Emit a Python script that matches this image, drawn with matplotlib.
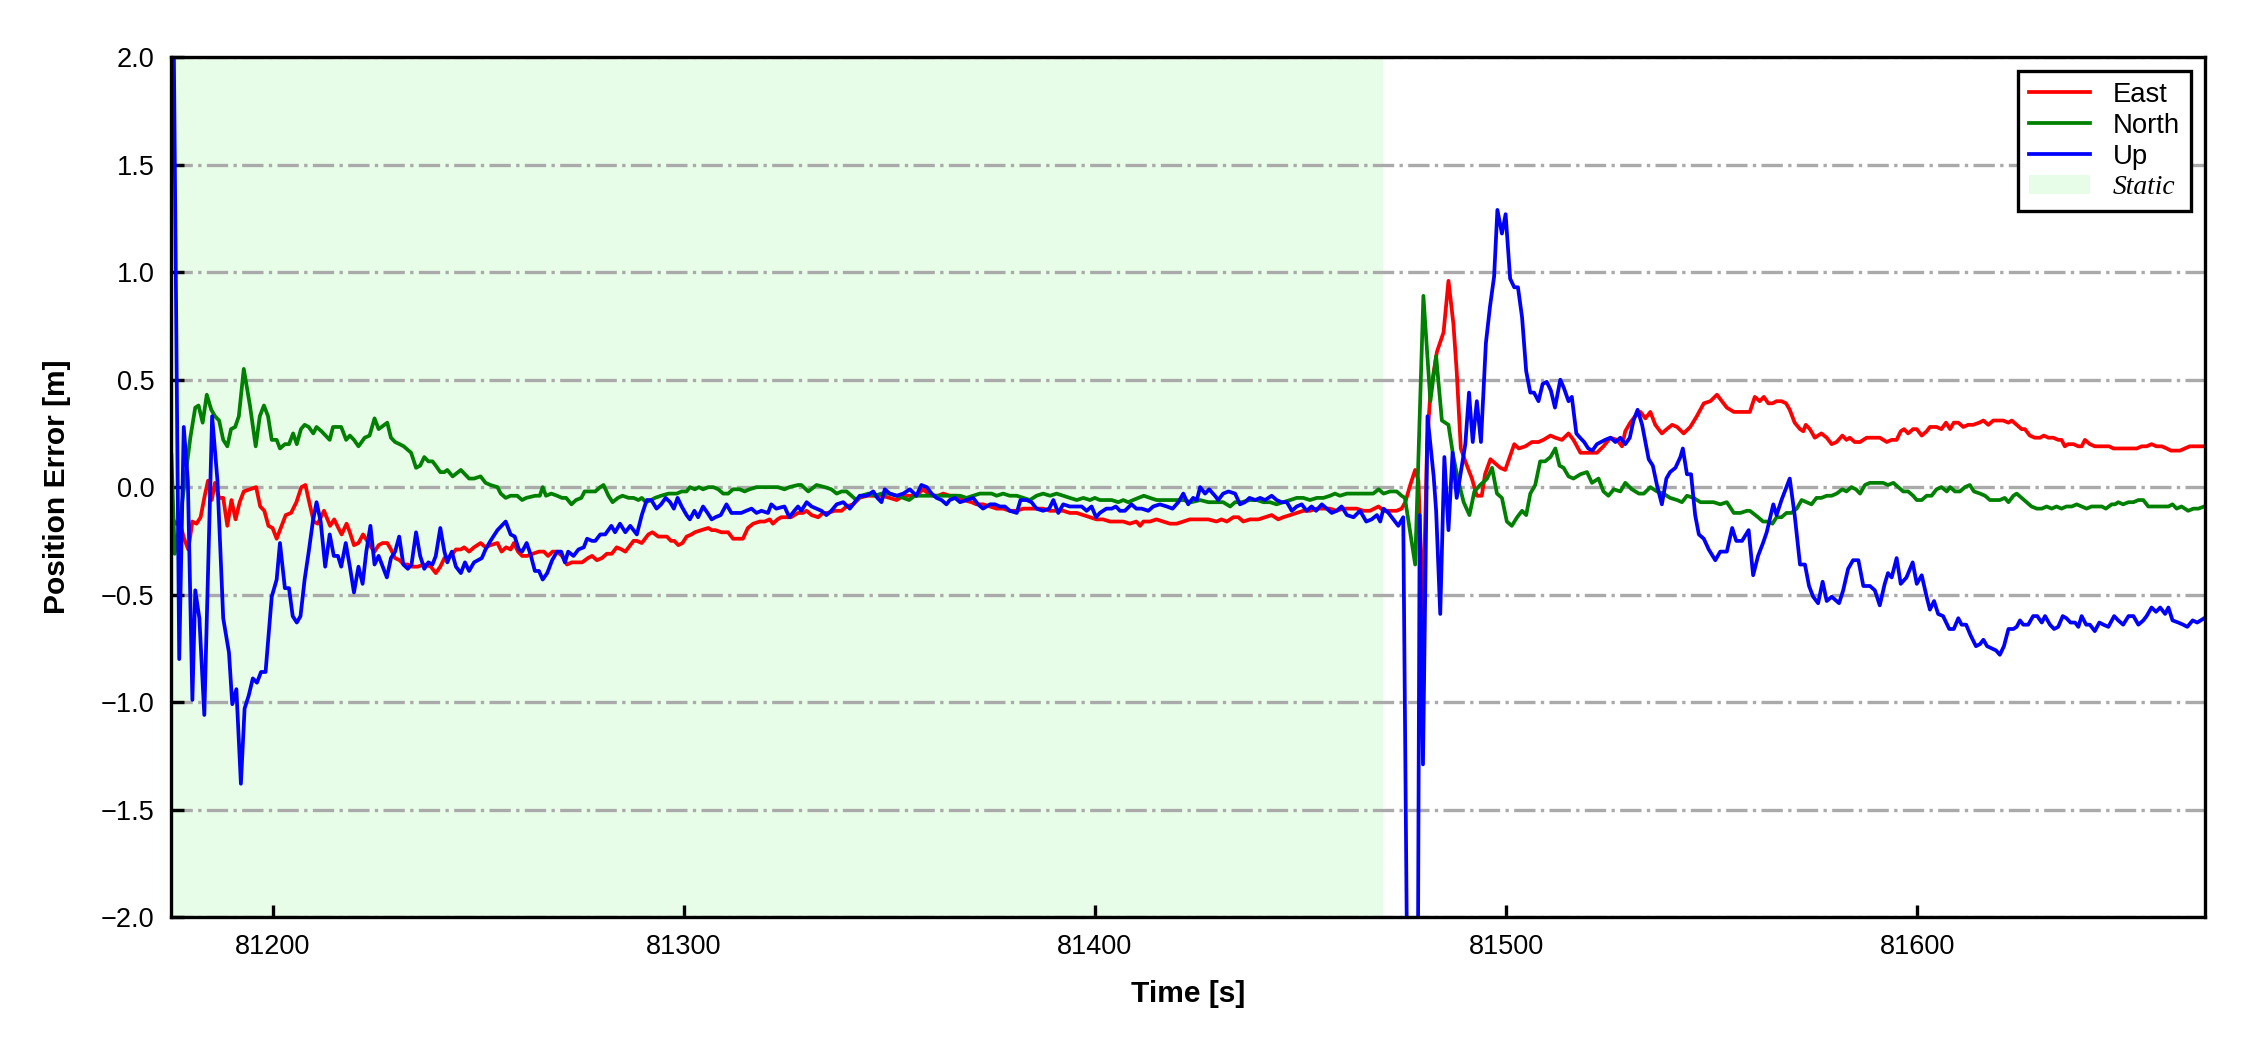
import matplotlib
matplotlib.use('Agg')
import matplotlib.pyplot as plt
from matplotlib.lines import Line2D
from matplotlib.patches import Patch

plt.rcParams['font.family'] = ['Liberation Sans', 'DejaVu Sans']

# ---- data ------------------------------------------------------------------
static_start, static_end = 81175.3, 81470.0

t_east = [
    81175.4, 81176.5, 81177.5, 81178.5, 81179.5, 81180.5, 81181.5, 81182.5, 81183.5, 81184.3,
    81185.2, 81186.0, 81187.0, 81188.0, 81189.0, 81190.0, 81191.0, 81192.0, 81193.0, 81194.5,
    81196.0, 81197.0, 81198.0, 81199.0, 81200.0, 81201.0, 81202.0, 81203.2, 81204.5, 81205.8,
    81207.0, 81208.0, 81208.8, 81210.0, 81211.0, 81212.5, 81214.0, 81215.0, 81216.0, 81216.8,
    81218.0, 81218.8, 81219.8, 81220.9, 81222.0, 81223.0, 81224.0, 81224.8, 81225.8, 81226.8,
    81227.9, 81228.8, 81229.8, 81230.9, 81231.9, 81232.9, 81233.9, 81235.3, 81236.9, 81238.5,
    81239.7, 81240.8, 81241.8,
    81242.5, 81243.8, 81244.6, 81245.8, 81246.6, 81247.8, 81249.0, 81250.6, 81251.8, 81253.0,
    81254.7, 81255.7, 81256.8, 81257.9, 81258.7, 81259.7, 81260.7, 81261.9, 81263.3, 81264.8,
    81266.0, 81267.0, 81268.1, 81269.2, 81270.4, 81271.6, 81272.8, 81274.0, 81275.3, 81276.7,
    81277.7, 81278.9, 81280.1, 81281.3, 81282.5, 81283.7, 81284.9, 81285.8, 81287.0, 81287.8,
    81288.6, 81289.8, 81291.4, 81292.4, 81293.8, 81295.0, 81295.9, 81296.9, 81297.7, 81298.7,
    81299.7, 81300.7, 81301.9, 81302.7, 81304.3, 81306.0, 81306.8, 81307.7, 81309.2, 81310.8,
    81312.0, 81313.2, 81314.4, 81315.6, 81316.9, 81318.5, 81319.7, 81320.9, 81321.7, 81322.8,
    81323.7, 81324.9, 81326.1, 81327.8,
    81329.0, 81329.9, 81331.1, 81332.7, 81333.9, 81335.1, 81336.7, 81338.4, 81339.6, 81341.2,
    81342.8, 81344.5, 81346.1, 81348.1, 81350.1, 81351.8, 81353.4, 81355.0, 81356.6, 81358.2,
    81359.5, 81360.7, 81361.9, 81363.1, 81364.7, 81366.4, 81368.0, 81370.0, 81371.2, 81372.8,
    81374.5, 81376.1, 81377.7, 81379.3, 81381.0, 81382.6, 81384.2, 81385.8, 81387.4, 81389.1,
    81390.7, 81392.3, 81393.9, 81395.6, 81397.2, 81398.8, 81400.4, 81402.0, 81403.7, 81405.3,
    81406.9, 81408.5, 81410.1, 81411.0, 81411.8, 81413.4, 81415.0,
    81416.6, 81418.3, 81419.9, 81421.5, 81423.1, 81425.6, 81427.6, 81429.6, 81430.8, 81432.1,
    81433.7, 81434.9, 81436.1, 81437.7, 81439.8, 81441.4, 81443.0, 81444.6, 81445.8, 81447.5,
    81449.1, 81450.7, 81452.3, 81454.0, 81455.6, 81457.2, 81458.8, 81460.4, 81462.1, 81463.7,
    81465.3, 81466.9, 81469.0, 81470.2, 81471.8, 81473.4, 81474.6,
    81475.5, 81476.7, 81477.9, 81478.7, 81479.8, 81480.8, 81481.6, 81483.2, 81484.8, 81486.0,
    81487.2, 81488.0, 81489.0, 81490.1, 81491.7, 81492.9, 81494.1, 81494.9, 81496.2, 81497.4,
    81498.6, 81499.8, 81500.9, 81502.0, 81503.1, 81504.7, 81506.3, 81507.9, 81509.1, 81510.8,
    81512.0, 81513.6, 81515.2, 81516.4, 81518.1, 81519.7, 81522.1, 81523.7, 81525.4, 81527.0,
    81528.2, 81529.0, 81530.2, 81531.4, 81532.7, 81533.9, 81535.1, 81536.3, 81537.9, 81539.1,
    81540.4, 81541.6, 81543.2, 81544.8, 81546.4, 81548.1, 81549.7, 81551.3, 81552.1, 81553.7,
    81555.4, 81557.0, 81558.6,
    81559.3, 81560.5, 81561.7, 81562.7, 81563.8, 81564.8, 81565.8, 81567.0, 81568.1, 81569.0,
    81570.2, 81571.5, 81572.3, 81572.9, 81573.9, 81575.1, 81576.7, 81578.0, 81579.2, 81580.4,
    81581.8, 81582.8, 81583.6, 81584.8, 81586.1, 81587.7, 81589.3, 81590.9, 81592.6, 81593.8,
    81595.0, 81596.0, 81596.8, 81597.8, 81599.0, 81599.9, 81601.1, 81602.3, 81603.1, 81604.7,
    81605.9, 81607.0, 81608.0, 81608.9, 81610.0, 81611.2, 81612.4, 81613.6, 81615.1, 81616.1,
    81617.3, 81618.5, 81619.7, 81620.9, 81622.2, 81623.0, 81624.2, 81625.4, 81626.2, 81627.4,
    81628.6, 81629.9, 81630.8, 81631.9, 81633.1, 81634.3, 81635.1, 81635.9, 81636.7, 81638.0,
    81639.2, 81640.0, 81640.8, 81642.0, 81643.2, 81644.5, 81645.7, 81646.7, 81647.7, 81648.9,
    81650.1, 81651.4, 81652.4, 81653.4, 81654.6, 81655.8, 81657.0, 81658.2, 81659.5, 81660.7,
    81661.7, 81662.7, 81663.9, 81665.1, 81666.3, 81667.6, 81668.8, 81669.8,
]
east = [
    -0.14, -0.17, -0.17, -0.24, -0.29, -0.16, -0.17, -0.14, -0.04, 0.03,
    -0.06, 0.02, -0.05, -0.05, -0.18, -0.06, -0.15, -0.07, -0.02, -0.01,
    0.00, -0.09, -0.11, -0.18, -0.19, -0.24, -0.19, -0.13, -0.12, -0.07,
    0.00, 0.01, -0.06, -0.16, -0.17, -0.11, -0.18, -0.15, -0.19, -0.22,
    -0.17, -0.21, -0.27, -0.26, -0.22, -0.25, -0.28, -0.30, -0.27, -0.26,
    -0.26, -0.29, -0.33, -0.34, -0.36, -0.36, -0.37, -0.37, -0.36, -0.37,
    -0.40, -0.37, -0.33,
    -0.33, -0.31, -0.29, -0.29, -0.28, -0.30, -0.28, -0.26, -0.28, -0.27,
    -0.26, -0.30, -0.28, -0.29, -0.26, -0.30, -0.32, -0.32, -0.31, -0.30,
    -0.30, -0.32, -0.30, -0.30, -0.32, -0.36, -0.35, -0.35, -0.35, -0.33,
    -0.32, -0.34, -0.33, -0.31, -0.31, -0.28, -0.29, -0.30, -0.27, -0.25,
    -0.25, -0.26, -0.22, -0.21, -0.23, -0.23, -0.23, -0.25, -0.25, -0.27,
    -0.26, -0.23, -0.22, -0.21, -0.20, -0.19, -0.20, -0.20, -0.21, -0.21,
    -0.24, -0.24, -0.24, -0.19, -0.17, -0.16, -0.16, -0.15, -0.17, -0.15,
    -0.14, -0.14, -0.14, -0.12,
    -0.12, -0.11, -0.13, -0.14, -0.12, -0.12, -0.11, -0.11, -0.09, -0.08,
    -0.05, -0.04, -0.04, -0.04, -0.05, -0.06, -0.04, -0.04, -0.04, -0.01,
    -0.03, -0.04, -0.04, -0.03, -0.04, -0.04, -0.06, -0.07, -0.08, -0.08,
    -0.09, -0.10, -0.10, -0.11, -0.11, -0.10, -0.10, -0.10, -0.10, -0.11,
    -0.11, -0.11, -0.12, -0.12, -0.13, -0.14, -0.15, -0.15, -0.16, -0.16,
    -0.16, -0.17, -0.16, -0.18, -0.16, -0.16, -0.15,
    -0.16, -0.17, -0.17, -0.16, -0.15, -0.15, -0.15, -0.16, -0.15, -0.16,
    -0.14, -0.14, -0.16, -0.15, -0.15, -0.14, -0.13, -0.15, -0.14, -0.13,
    -0.12, -0.11, -0.11, -0.10, -0.10, -0.10, -0.11, -0.10, -0.10, -0.10,
    -0.11, -0.11, -0.09, -0.11, -0.11, -0.11, -0.10,
    -0.07, 0.01, 0.08, 0.03, -0.60, 0.20, 0.44, 0.63, 0.72, 0.96,
    0.76, 0.54, 0.18, 0.12, 0.04, -0.04, -0.04, 0.06, 0.13, 0.11,
    0.09, 0.08, 0.14, 0.20, 0.18, 0.19, 0.21, 0.21, 0.22, 0.24,
    0.23, 0.22, 0.25, 0.22, 0.16, 0.16, 0.16, 0.19, 0.23, 0.22,
    0.19, 0.26, 0.30, 0.33, 0.35, 0.32, 0.35, 0.29, 0.25, 0.27,
    0.29, 0.28, 0.25, 0.28, 0.33, 0.39, 0.40, 0.43, 0.41, 0.37,
    0.35, 0.35, 0.35,
    0.35, 0.42, 0.40, 0.42, 0.39, 0.39, 0.40, 0.40, 0.39, 0.36,
    0.30, 0.27, 0.26, 0.29, 0.27, 0.23, 0.25, 0.23, 0.20, 0.21,
    0.24, 0.22, 0.23, 0.21, 0.21, 0.23, 0.23, 0.23, 0.21, 0.22,
    0.22, 0.26, 0.27, 0.25, 0.27, 0.27, 0.24, 0.26, 0.28, 0.28,
    0.27, 0.30, 0.27, 0.30, 0.30, 0.28, 0.29, 0.29, 0.30, 0.31,
    0.29, 0.31, 0.31, 0.31, 0.30, 0.31, 0.29, 0.27, 0.27, 0.24,
    0.23, 0.23, 0.24, 0.23, 0.23, 0.22, 0.22, 0.19, 0.20, 0.20,
    0.19, 0.19, 0.22, 0.20, 0.19, 0.19, 0.19, 0.19, 0.18, 0.18,
    0.18, 0.18, 0.18, 0.18, 0.19, 0.19, 0.20, 0.19, 0.19, 0.18,
    0.17, 0.17, 0.17, 0.18, 0.19, 0.19, 0.19, 0.19,
]

t_north = [
    81175.4, 81176.2, 81177.1, 81180.0, 81181.2, 81182.0, 81183.0, 81184.0, 81185.1, 81186.0,
    81187.0, 81188.0, 81189.0, 81189.9, 81190.9, 81191.8, 81193.0, 81194.5, 81195.9, 81196.9,
    81197.9, 81198.9, 81199.8, 81201.0, 81201.8, 81203.0, 81204.0, 81205.0, 81205.9, 81206.9,
    81207.8, 81208.8, 81209.9, 81210.7, 81211.9, 81213.9, 81214.7, 81216.7, 81217.9, 81218.8,
    81219.8, 81220.9, 81222.4, 81223.6, 81224.8, 81225.8, 81227.9, 81228.8, 81229.8, 81230.9,
    81231.9, 81233.7, 81234.9, 81235.9, 81236.9, 81237.9, 81238.9, 81239.7, 81240.8, 81241.8,
    81242.5, 81243.8, 81245.8, 81247.8, 81249.0, 81250.6, 81251.8, 81253.0, 81254.7, 81255.5,
    81256.7, 81257.9, 81259.5, 81260.7, 81261.7, 81263.9, 81265.0, 81265.7, 81266.5, 81267.8,
    81269.2, 81270.4, 81271.4, 81272.7, 81273.8, 81275.1, 81275.9, 81277.3, 81278.5, 81279.7,
    81280.5, 81281.7, 81282.7, 81284.0, 81285.1, 81286.6, 81287.8, 81289.0, 81289.8, 81290.8,
    81292.1, 81293.0, 81294.5, 81296.3, 81298.3, 81299.5, 81300.7, 81301.5, 81302.7, 81303.7,
    81304.7, 81306.0, 81307.2, 81308.4, 81309.6, 81310.8, 81312.0, 81313.6, 81314.8, 81316.0,
    81317.7, 81318.9, 81321.3, 81322.9, 81324.5, 81325.7, 81327.8,
    81328.6, 81330.3, 81332.3, 81334.3, 81335.9, 81337.2, 81338.4, 81339.6, 81340.8, 81342.0,
    81343.2, 81344.9, 81346.5, 81348.1, 81350.1, 81351.8, 81353.4, 81354.8, 81356.2, 81357.8,
    81359.9, 81361.9, 81363.9, 81365.5, 81367.2, 81368.8, 81370.4, 81372.0, 81373.7, 81374.9,
    81376.1, 81377.7, 81379.3, 81381.0, 81382.6, 81384.2, 81385.8, 81387.4, 81389.1, 81390.7,
    81392.3, 81393.9, 81395.6, 81397.2, 81398.8, 81400.0, 81401.2, 81402.8, 81404.1, 81405.7,
    81406.9, 81408.1, 81409.3, 81410.6, 81411.9, 81413.4, 81415.0,
    81417.5, 81419.5, 81421.5, 81423.5, 81425.6, 81427.6, 81429.6, 81431.2, 81432.9, 81434.1,
    81435.7, 81437.7, 81439.4, 81441.0, 81442.6, 81444.2, 81445.8, 81447.5, 81449.1, 81450.7,
    81452.3, 81454.0, 81455.6, 81457.2, 81458.4, 81459.6, 81461.3, 81462.9, 81464.5, 81466.1,
    81467.7, 81469.0, 81470.2, 81471.8, 81473.4, 81474.6, 81475.4,
    81477.9, 81479.9, 81481.6, 81483.0, 81484.4, 81486.0, 81487.2, 81488.5, 81489.7, 81491.1,
    81492.3, 81493.7, 81495.4, 81496.6, 81497.8, 81499.0, 81500.2, 81501.4, 81502.7, 81503.9,
    81504.9, 81505.9, 81507.1, 81508.3, 81509.5, 81510.8, 81512.0, 81513.0, 81514.0, 81515.2,
    81516.4, 81518.1, 81519.7, 81520.9, 81522.5, 81523.7, 81524.9, 81526.2, 81527.8, 81529.0,
    81530.6, 81532.3, 81533.5, 81535.1, 81536.7, 81538.3, 81539.9, 81541.6, 81542.8, 81544.0,
    81545.6, 81547.3, 81548.9, 81550.5, 81552.1, 81553.7, 81555.4, 81557.0, 81558.6,
    81559.3, 81561.3, 81562.5, 81563.8, 81564.8, 81565.8, 81567.0, 81568.2, 81569.4, 81570.7,
    81571.9, 81573.1, 81574.3, 81575.5, 81576.7, 81578.0, 81579.2, 81580.4, 81581.8, 81582.8,
    81584.0, 81585.1, 81586.1, 81587.3, 81588.5, 81590.1, 81591.7, 81592.9, 81594.2, 81595.4,
    81596.6, 81597.8, 81599.0, 81599.9, 81601.1, 81602.3, 81603.5, 81604.7, 81605.9, 81607.2,
    81608.0, 81609.2, 81610.4, 81611.6, 81612.8, 81613.8, 81615.3, 81616.5, 81617.7, 81618.9,
    81620.1, 81621.3, 81622.2, 81623.4, 81624.2, 81625.4, 81626.6, 81627.8, 81629.1, 81630.3,
    81631.5, 81632.7, 81633.9, 81635.1, 81636.3, 81637.6, 81638.8, 81640.0, 81641.2, 81642.4,
    81643.6, 81644.9, 81645.9, 81647.3, 81648.1, 81648.9, 81650.1, 81651.4, 81652.6, 81653.8,
    81655.0, 81656.2, 81657.4, 81658.7, 81659.9, 81661.1, 81662.1, 81663.1, 81664.3, 81665.9,
    81667.2, 81668.4, 81669.8,
]
north = [
    0.15, -0.31, -0.21, 0.23, 0.37, 0.38, 0.30, 0.43, 0.36, 0.33,
    0.31, 0.22, 0.19, 0.27, 0.28, 0.33, 0.55, 0.38, 0.19, 0.33,
    0.38, 0.33, 0.22, 0.22, 0.18, 0.20, 0.20, 0.25, 0.20, 0.27,
    0.29, 0.28, 0.25, 0.28, 0.26, 0.22, 0.28, 0.28, 0.22, 0.24,
    0.22, 0.19, 0.23, 0.24, 0.32, 0.27, 0.30, 0.23, 0.21, 0.20,
    0.19, 0.16, 0.09, 0.10, 0.14, 0.12, 0.12, 0.10, 0.07, 0.07,
    0.08, 0.05, 0.08, 0.04, 0.04, 0.05, 0.02, 0.01, 0.00, -0.03,
    -0.05, -0.04, -0.04, -0.06, -0.05, -0.04, -0.04, 0.00, -0.04, -0.03,
    -0.04, -0.05, -0.05, -0.08, -0.06, -0.05, -0.02, -0.02, -0.02, 0.00,
    0.01, -0.04, -0.07, -0.05, -0.04, -0.05, -0.05, -0.06, -0.05, -0.07,
    -0.06, -0.05, -0.04, -0.03, -0.03, -0.02, -0.02, 0.00, -0.01, 0.00,
    -0.01, 0.00, 0.00, -0.01, -0.03, -0.03, -0.01, -0.01, -0.02, -0.01,
    0.00, 0.00, 0.00, 0.00, -0.01, 0.00, 0.01,
    0.01, -0.02, 0.01, 0.00, -0.01, -0.03, -0.02, -0.02, -0.04, -0.06,
    -0.04, -0.03, -0.04, -0.03, -0.03, -0.04, -0.05, -0.06, -0.04, -0.04,
    -0.04, -0.04, -0.04, -0.04, -0.04, -0.05, -0.04, -0.03, -0.03, -0.03,
    -0.04, -0.03, -0.04, -0.04, -0.05, -0.06, -0.04, -0.03, -0.04, -0.03,
    -0.04, -0.05, -0.06, -0.05, -0.06, -0.05, -0.06, -0.06, -0.06, -0.07,
    -0.06, -0.07, -0.06, -0.05, -0.04, -0.05, -0.06,
    -0.06, -0.06, -0.06, -0.07, -0.06, -0.07, -0.07, -0.07, -0.09, -0.07,
    -0.07, -0.06, -0.06, -0.07, -0.07, -0.08, -0.07, -0.06, -0.05, -0.05,
    -0.06, -0.05, -0.05, -0.04, -0.03, -0.04, -0.03, -0.03, -0.03, -0.03,
    -0.03, -0.01, -0.03, -0.02, -0.02, -0.04, -0.05,
    -0.36, 0.89, 0.40, 0.61, 0.31, 0.29, 0.14, 0.02, -0.07, -0.13,
    -0.02, 0.01, 0.04, 0.09, -0.03, -0.05, -0.16, -0.18, -0.14, -0.11,
    -0.13, -0.03, 0.01, 0.12, 0.12, 0.14, 0.18, 0.10, 0.09, 0.05,
    0.04, 0.06, 0.07, 0.02, 0.04, -0.02, -0.04, -0.01, -0.02, 0.02,
    -0.01, -0.03, -0.03, 0.00, -0.02, -0.03, -0.05, -0.06, -0.07, -0.04,
    -0.05, -0.07, -0.07, -0.07, -0.08, -0.07, -0.12, -0.12, -0.11,
    -0.11, -0.14, -0.16, -0.16, -0.17, -0.14, -0.14, -0.12, -0.12, -0.10,
    -0.06, -0.07, -0.08, -0.05, -0.05, -0.04, -0.04, -0.03, -0.01, -0.02,
    0.00, -0.01, -0.03, 0.01, 0.02, 0.02, 0.02, 0.01, 0.02, 0.00,
    -0.02, -0.02, -0.04, -0.06, -0.06, -0.04, -0.04, -0.01, 0.00, -0.02,
    0.00, -0.02, -0.02, 0.00, 0.01, -0.02, -0.03, -0.04, -0.06, -0.06,
    -0.06, -0.05, -0.07, -0.04, -0.03, -0.05, -0.07, -0.09, -0.10, -0.10,
    -0.09, -0.10, -0.09, -0.10, -0.09, -0.09, -0.08, -0.09, -0.10, -0.09,
    -0.09, -0.09, -0.10, -0.08, -0.08, -0.07, -0.08, -0.07, -0.07, -0.06,
    -0.06, -0.09, -0.09, -0.09, -0.09, -0.09, -0.08, -0.10, -0.09, -0.11,
    -0.10, -0.10, -0.09,
]

t_up = [
    81175.4, 81177.3, 81178.4, 81179.4, 81180.5, 81181.2, 81182.2, 81183.4, 81185.3, 81186.6,
    81188.0, 81189.4, 81190.2, 81191.2, 81192.3, 81193.2, 81194.2, 81195.2, 81196.2, 81197.2,
    81198.3, 81199.8, 81201.0, 81201.8, 81203.0, 81204.0, 81204.9, 81205.9, 81206.8, 81207.8,
    81208.8, 81209.8, 81210.7, 81211.7, 81212.8, 81213.9, 81214.9, 81215.9, 81216.7, 81217.8,
    81218.8, 81219.8, 81220.9, 81221.9, 81222.8, 81223.8, 81224.8, 81225.8, 81226.8, 81227.8,
    81228.8, 81229.8, 81230.8, 81231.8, 81232.9, 81233.8, 81234.9, 81235.9, 81236.9, 81237.9,
    81238.9, 81239.7, 81240.8, 81241.8,
    81242.5, 81243.6, 81244.6, 81245.8, 81246.8, 81247.8, 81249.0, 81250.9, 81251.8, 81253.0,
    81254.7, 81255.7, 81256.7, 81257.9, 81258.9, 81259.9, 81260.7, 81261.8, 81262.7, 81263.8,
    81264.8, 81265.7, 81266.8, 81268.0, 81269.2, 81270.2, 81271.1, 81271.9, 81273.2, 81274.4,
    81275.7, 81276.5, 81277.7, 81278.5, 81279.7, 81280.9, 81282.4, 81283.3, 81284.5, 81285.8,
    81287.0, 81288.6, 81289.8, 81291.0, 81292.1, 81293.4, 81294.5, 81295.6, 81296.7, 81297.6,
    81298.5, 81299.5, 81300.7, 81301.5, 81302.6, 81303.5, 81304.7, 81305.8, 81306.8, 81307.7,
    81309.0, 81310.4, 81311.6, 81312.8, 81314.0, 81315.2, 81316.5, 81317.7, 81318.9, 81320.5,
    81321.3, 81322.5, 81324.5, 81325.7, 81326.9, 81327.8,
    81328.6, 81329.9, 81331.1, 81332.3, 81333.5, 81334.7, 81335.9, 81337.2, 81338.8, 81340.4,
    81342.0, 81342.8, 81344.5, 81346.1, 81347.1, 81348.1, 81348.9, 81350.1, 81351.8, 81353.4,
    81355.0, 81356.6, 81357.8, 81359.1, 81360.3, 81361.5, 81362.7, 81363.9, 81364.7, 81366.0,
    81367.2, 81368.8, 81370.4, 81371.6, 81372.8, 81374.5, 81375.7, 81376.9, 81378.1, 81379.3,
    81381.0, 81381.9, 81383.4, 81384.6, 81385.8, 81387.4, 81388.9, 81389.9, 81391.1, 81392.3,
    81393.9, 81395.6, 81396.8, 81398.0, 81399.2, 81400.3, 81401.2, 81402.8, 81404.1, 81405.1,
    81406.1, 81407.3, 81408.9, 81410.1, 81411.4, 81413.0, 81414.2, 81415.8,
    81417.5, 81418.9, 81420.3, 81421.5, 81422.7, 81423.9, 81424.8, 81425.6, 81426.8, 81427.8,
    81429.2, 81430.0, 81431.2, 81432.5, 81434.1, 81435.3, 81436.5, 81437.6, 81439.0, 81440.2,
    81441.4, 81443.0, 81444.2, 81445.4, 81446.7, 81447.9, 81449.1, 81450.3, 81451.5, 81452.7,
    81453.8, 81455.2, 81456.4, 81457.6, 81458.8, 81460.0, 81461.3, 81462.9, 81464.5, 81466.0,
    81467.3, 81468.6, 81469.4, 81470.2, 81471.4, 81472.6, 81473.8, 81475.0,
    81476.2, 81478.3, 81479.0, 81479.8, 81480.9, 81482.4, 81483.0, 81484.0, 81485.0, 81486.0,
    81487.0, 81488.0, 81489.0, 81490.1, 81491.0, 81491.9, 81492.9, 81493.9, 81495.1, 81496.1,
    81497.1, 81497.9, 81499.0, 81499.9, 81501.0, 81502.0, 81502.9, 81503.9, 81504.9, 81505.9,
    81506.8, 81507.9, 81508.9, 81509.9, 81510.9, 81511.9, 81513.2, 81514.1, 81515.2, 81516.0,
    81517.1, 81518.0, 81519.0, 81520.0, 81521.0, 81522.1, 81524.1, 81525.4, 81526.6, 81527.8,
    81529.0, 81530.1, 81531.0, 81532.0, 81533.1, 81534.7, 81535.7, 81536.7, 81537.9, 81539.0,
    81539.9, 81541.2, 81542.4, 81543.0, 81544.0, 81545.0, 81546.0, 81546.9, 81548.1, 81549.3,
    81550.9, 81552.1, 81553.7, 81555.0, 81556.0, 81557.4, 81559.0, 81560.1,
    81561.3, 81562.5, 81563.4, 81565.0, 81565.8, 81567.0, 81569.0, 81570.2, 81571.5, 81572.7,
    81573.7, 81574.7, 81575.9, 81577.0, 81578.0, 81579.2, 81581.0, 81582.0, 81583.2, 81584.4,
    81585.7, 81586.9, 81588.5, 81589.7, 81590.9, 81592.1, 81592.9, 81593.8, 81595.0, 81596.0,
    81597.4, 81598.9, 81599.9, 81601.1, 81602.3, 81603.1, 81604.1, 81605.1, 81606.3, 81607.8,
    81608.9, 81610.0, 81610.8, 81611.9, 81613.0, 81614.3, 81615.3, 81616.1, 81617.0, 81618.1,
    81619.2, 81620.1, 81621.1, 81622.2, 81623.4, 81624.2, 81625.0, 81625.8, 81627.0, 81628.2,
    81629.2, 81630.3, 81631.1, 81632.3, 81633.3, 81634.3, 81635.4, 81636.3, 81637.3, 81638.4,
    81639.2, 81640.0, 81641.1, 81642.0, 81643.2, 81644.3, 81645.3, 81646.5, 81647.9, 81648.9,
    81650.1, 81651.4, 81652.6, 81653.8, 81655.0, 81655.8, 81657.0, 81658.1, 81659.1, 81660.3,
    81661.1, 81662.1, 81663.5, 81664.7, 81665.7, 81667.0, 81668.1, 81669.8,
]
up = [
    3.30, -0.80, 0.28, 0.03, -0.99, -0.48, -0.61, -1.06, 0.33, 0.03,
    -0.61, -0.77, -1.01, -0.94, -1.38, -1.03, -0.97, -0.89, -0.91, -0.86,
    -0.86, -0.51, -0.43, -0.26, -0.47, -0.47, -0.60, -0.63, -0.60, -0.43,
    -0.30, -0.16, -0.07, -0.16, -0.37, -0.22, -0.32, -0.32, -0.37, -0.26,
    -0.37, -0.49, -0.37, -0.45, -0.30, -0.18, -0.36, -0.32, -0.37, -0.42,
    -0.33, -0.30, -0.23, -0.36, -0.38, -0.36, -0.21, -0.32, -0.38, -0.35,
    -0.36, -0.32, -0.19, -0.30,
    -0.35, -0.30, -0.37, -0.40, -0.35, -0.39, -0.35, -0.33, -0.29, -0.25,
    -0.20, -0.18, -0.16, -0.22, -0.23, -0.29, -0.30, -0.26, -0.31, -0.39,
    -0.39, -0.43, -0.40, -0.34, -0.30, -0.30, -0.35, -0.30, -0.32, -0.29,
    -0.28, -0.24, -0.25, -0.25, -0.22, -0.22, -0.18, -0.21, -0.17, -0.21,
    -0.18, -0.22, -0.13, -0.06, -0.06, -0.10, -0.08, -0.05, -0.07, -0.10,
    -0.05, -0.09, -0.13, -0.15, -0.11, -0.14, -0.09, -0.12, -0.15, -0.14,
    -0.13, -0.08, -0.12, -0.12, -0.12, -0.11, -0.10, -0.12, -0.11, -0.12,
    -0.08, -0.10, -0.09, -0.14, -0.11, -0.09,
    -0.11, -0.07, -0.09, -0.10, -0.11, -0.13, -0.11, -0.08, -0.07, -0.10,
    -0.06, -0.04, -0.04, -0.02, -0.05, -0.07, -0.01, -0.03, -0.04, -0.03,
    -0.01, -0.04, 0.01, 0.00, -0.03, -0.05, -0.06, -0.08, -0.06, -0.05,
    -0.07, -0.06, -0.05, -0.08, -0.10, -0.08, -0.08, -0.09, -0.09, -0.11,
    -0.12, -0.06, -0.06, -0.07, -0.10, -0.11, -0.10, -0.06, -0.12, -0.08,
    -0.09, -0.09, -0.09, -0.11, -0.09, -0.14, -0.12, -0.10, -0.10, -0.09,
    -0.11, -0.11, -0.08, -0.10, -0.10, -0.11, -0.09, -0.08,
    -0.09, -0.10, -0.07, -0.03, -0.08, -0.05, -0.06, 0.00, -0.03, -0.01,
    -0.04, -0.06, -0.03, -0.02, -0.03, -0.08, -0.07, -0.05, -0.06, -0.05,
    -0.06, -0.04, -0.06, -0.07, -0.07, -0.11, -0.09, -0.08, -0.11, -0.09,
    -0.11, -0.08, -0.10, -0.12, -0.11, -0.09, -0.13, -0.14, -0.11, -0.16,
    -0.15, -0.13, -0.16, -0.10, -0.12, -0.15, -0.18, -0.14,
    -2.80, -3.50, -0.13, -1.29, 0.33, 0.05, -0.11, -0.59, 0.14, -0.20,
    0.16, -0.05, 0.07, 0.20, 0.44, 0.21, 0.40, 0.21, 0.67, 0.84,
    0.98, 1.29, 1.18, 1.27, 0.97, 0.93, 0.93, 0.79, 0.54, 0.44,
    0.44, 0.40, 0.48, 0.49, 0.45, 0.37, 0.50, 0.46, 0.40, 0.42,
    0.25, 0.23, 0.21, 0.18, 0.17, 0.20, 0.22, 0.23, 0.21, 0.23,
    0.20, 0.23, 0.31, 0.36, 0.29, 0.13, 0.10, 0.01, -0.08, 0.04,
    0.07, 0.09, 0.14, 0.18, 0.06, 0.06, -0.13, -0.22, -0.24, -0.29,
    -0.34, -0.30, -0.30, -0.19, -0.25, -0.25, -0.20, -0.41,
    -0.32, -0.26, -0.21, -0.08, -0.13, -0.06, 0.04, -0.13, -0.36, -0.36,
    -0.46, -0.51, -0.54, -0.44, -0.53, -0.51, -0.54, -0.48, -0.38, -0.34,
    -0.34, -0.46, -0.46, -0.48, -0.55, -0.45, -0.40, -0.42, -0.33, -0.45,
    -0.42, -0.35, -0.45, -0.41, -0.51, -0.57, -0.53, -0.59, -0.60, -0.66,
    -0.66, -0.61, -0.64, -0.64, -0.69, -0.74, -0.73, -0.71, -0.74, -0.75,
    -0.76, -0.78, -0.74, -0.66, -0.66, -0.65, -0.62, -0.64, -0.64, -0.60,
    -0.60, -0.63, -0.60, -0.64, -0.66, -0.65, -0.60, -0.61, -0.63, -0.63,
    -0.65, -0.60, -0.64, -0.64, -0.67, -0.63, -0.64, -0.65, -0.60, -0.62,
    -0.64, -0.60, -0.60, -0.64, -0.62, -0.60, -0.56, -0.58, -0.56, -0.59,
    -0.56, -0.62, -0.63, -0.64, -0.65, -0.62, -0.63, -0.61,
]

# ---- plot -------------------------------------------------------------------
fig = plt.figure(figsize=(7.5, 3.5), dpi=300)
ax = fig.add_axes([0.076, 0.1267, 0.904, 0.8187])

ax.axvspan(static_start, static_end, facecolor='#e8fde8', lw=0, zorder=0)
ax.plot(t_east, east, color='red', lw=0.9)
ax.plot(t_north, north, color='green', lw=0.9)
ax.plot(t_up, up, color='blue', lw=0.9)

ax.set_xlim(81175.3, 81670.0)
ax.set_ylim(-2.0, 2.0)
ax.set_xticks([81200, 81300, 81400, 81500, 81600])
ax.set_yticks([-2.0, -1.5, -1.0, -0.5, 0.0, 0.5, 1.0, 1.5, 2.0])
ax.ticklabel_format(axis='x', useOffset=False, style='plain')
ax.grid(axis='y', linestyle='-.', color='#aaaaaa', lw=0.8)
ax.tick_params(direction='in', length=3, width=0.8, labelsize=6.5, pad=4)
for s in ax.spines.values():
    s.set_linewidth(0.8)

ax.set_xlabel('Time [s]', fontsize=7.2, fontweight='bold', labelpad=5)
ax.set_ylabel('Position Error [m]', fontsize=7.2, fontweight='bold', labelpad=7)

handles = [Line2D([], [], color='red', lw=0.9),
           Line2D([], [], color='green', lw=0.9),
           Line2D([], [], color='blue', lw=0.9),
           Patch(facecolor='#e8fde8', edgecolor='none')]
leg = ax.legend(handles, ['East', 'North', 'Up', 'Static'], loc='upper right',
                fontsize=6.6, fancybox=False, edgecolor='black', framealpha=1,
                labelspacing=0.18, handlelength=2.2, handletextpad=0.85)
leg.get_frame().set_linewidth(0.8)
st = leg.get_texts()[3]
st.set_fontfamily(['Liberation Serif', 'DejaVu Serif'])
st.set_fontstyle('italic')

fig.savefig('out.png', dpi=300)
